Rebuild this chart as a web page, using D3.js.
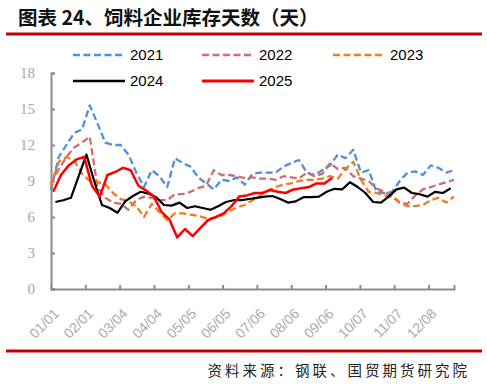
<!DOCTYPE html>
<head>
<meta charset="utf-8">
<script src="https://d3js.org/d3.v7.min.js"></script>
<style>
body { margin: 0; background: #fff; }
svg { display: block; }
</style>
</head>
<body>
<svg width="487" height="384"></svg>
<script>
// x-axis tick labels (month/day), one every 31 days
var tickLabels = ["01/01","02/01","03/04","04/04","05/05","06/05","07/06","08/06","09/06","10/07","11/07","12/08"];
var yTicks = [0, 3, 6, 9, 12, 15, 18];

// weekly readings, first date of each year's series
var years = ["2021", "2022", "2023", "2024", "2025"];
var firstDates = ["01/01", "01/01", "01/01", "01/05", "01/03"];

var v2021 = [8.25,11.0,12.0,13.0,13.3,15.3,13.8,12.2,12.0,12.0,11.2,9.7,8.5,9.9,9.4,8.5,10.9,10.5,10.2,9.3,8.8,8.3,9.1,9.0,9.3,8.7,9.6,9.7,9.7,9.7,10.2,10.5,10.75,9.7,9.5,9.9,10.3,11.2,10.9,11.6,9.7,9.9,8.1,8.0,8.1,9.0,9.7,9.8,9.5,10.3,10.1,9.7,9.9];
var v2022 = [8.8,10.0,11.0,11.8,12.2,12.7,8.5,7.6,7.2,7.1,6.6,7.4,7.7,7.6,7.4,7.4,7.9,7.9,8.1,8.4,8.6,9.9,9.5,9.5,9.4,9.25,9.3,9.2,9.2,9.1,9.4,9.3,9.2,9.7,9.4,9.6,10.5,10.0,10.1,9.4,9.2,9.0,8.4,8.1,7.8,7.2,7.1,7.8,8.3,8.5,8.7,8.9,9.1];
var v2023 = [8.6,10.6,11.0,10.7,9.6,9.0,8.9,8.75,8.0,7.5,7.3,6.9,6.0,7.1,6.4,5.75,6.3,6.3,6.2,6.1,5.9,5.9,6.1,6.5,6.8,7.0,7.4,7.8,8.2,8.5,8.7,8.8,9.0,9.1,9.1,9.2,9.4,9.2,10.0,10.6,9.1,8.1,8.0,7.8,7.7,7.2,6.9,6.9,7.0,7.4,7.6,7.2,7.7];
var v2024 = [7.25,7.4,7.6,9.4,11.2,9.0,7.0,6.75,6.35,7.3,7.75,8.1,7.95,7.65,7.0,6.95,7.2,6.75,6.9,6.75,6.6,6.9,7.25,7.4,7.4,7.5,7.6,7.7,7.75,7.5,7.2,7.3,7.65,7.65,7.7,8.1,8.35,8.3,8.9,8.5,8.0,7.25,7.2,7.7,8.3,8.45,8.0,7.9,7.7,8.1,8.0,8.4];
var v2025 = [8.1,9.5,10.3,10.8,11.0,8.6,7.7,9.5,9.75,10.1,9.9,8.6,8.2,7.7,6.4,5.8,4.3,5.0,4.4,5.1,5.75,6.0,6.3,6.9,7.7,7.8,8.0,8.0,8.25,8.1,8.0,8.3,8.4,8.5,8.8,8.8,9.25];

var seriesValues = [v2021, v2022, v2023, v2024, v2025];
var colors = ["#4F8FDB", "#CD6E6E", "#EE7D1F", "#000000", "#FF0000"];
var dashes = ["7,3.5", "7,3.5", "7,3.5", null, null];
var widths = [2.3, 2.3, 2.3, 2.2, 2.5];

var svg = d3.select("svg");
var parseMD = d3.timeParse("%Y/%m/%d");
var jan1 = parseMD("2023/01/01");
function dayOf(md) { return d3.timeDay.count(jan1, parseMD("2023/" + md)); }

var margin = {top: 73, right: 33, bottom: 95, left: 51};
var x = d3.scaleLinear().domain([0, 364]).range([margin.left, 487 - margin.right]);
var y = d3.scaleLinear().domain([0, 18]).range([384 - margin.bottom, margin.top]);

// title and rules
svg.append("text")
  .attr("x", 18).attr("y", 25)
  .text("图表 24、饲料企业库存天数（天）")
  .style("font-family", '"Noto Sans CJK SC", sans-serif')
  .style("font-weight", "bold")
  .style("font-size", "19.5px")
  .style("fill", "#111");

svg.append("line").attr("x1", 6).attr("x2", 482).attr("y1", 34).attr("y2", 34)
  .style("stroke", "#C00000").style("stroke-width", 3);
svg.append("line").attr("x1", 6).attr("x2", 482).attr("y1", 351).attr("y2", 351)
  .style("stroke", "#C00000").style("stroke-width", 3);

svg.append("text")
  .attr("x", 470).attr("y", 376)
  .attr("text-anchor", "end")
  .text("资料来源：钢联、国贸期货研究院")
  .style("font-family", '"Noto Sans CJK SC", sans-serif')
  .style("font-size", "14.5px")
  .style("letter-spacing", "3px")
  .style("fill", "#222");

// y axis
var yAxis = svg.append("g")
  .attr("transform", "translate(" + margin.left + ",0)")
  .call(d3.axisLeft(y).tickValues(yTicks).tickSize(-4).tickPadding(16));
yAxis.select(".domain").style("stroke", "#8C8C8C").style("stroke-width", 2);
yAxis.selectAll("line").style("stroke", "#8C8C8C").style("stroke-width", 2);
yAxis.selectAll("text")
  .style("font-family", '"Liberation Serif", serif')
  .style("font-size", "15px")
  .style("fill", "#A6A6A6");

// x axis
var tickDays = tickLabels.map(dayOf);
var xAxis = svg.append("g")
  .attr("transform", "translate(0," + y(0) + ")")
  .call(d3.axisBottom(x).tickValues(tickDays.slice(1)).tickSize(-4).tickFormat(""));
xAxis.select(".domain").style("stroke", "#8C8C8C").style("stroke-width", 2);
xAxis.selectAll("line").style("stroke", "#8C8C8C").style("stroke-width", 2);

svg.append("g").selectAll("text")
  .data(tickLabels)
  .join("text")
  .attr("transform", d => "translate(" + (x(dayOf(d)) + 5.5) + "," + (y(0) + 22) + ") rotate(-45)")
  .attr("text-anchor", "end")
  .attr("dy", "0.35em")
  .text(d => d)
  .style("font-family", '"Liberation Sans", Arial, sans-serif')
  .style("font-size", "14px")
  .style("fill", "#AAAAAA");

// lines
var line = d3.line()
  .x(d => x(d.day))
  .y(d => y(d.value));

var series = years.map(function(yr, i) {
  var d0 = dayOf(firstDates[i]);
  return {
    year: yr,
    values: seriesValues[i].map((v, k) => ({day: d0 + 7 * k, value: v}))
  };
});

svg.append("g").selectAll("path")
  .data(series)
  .join("path")
  .attr("d", d => line(d.values))
  .style("fill", "none")
  .style("stroke", (d, i) => colors[i])
  .style("stroke-width", (d, i) => widths[i])
  .style("stroke-dasharray", (d, i) => dashes[i])
  .style("stroke-linejoin", "round");

// legend
var legendPos = [[73, 55], [202, 55], [333, 55], [73, 81], [202, 81]];
var legend = svg.append("g").selectAll("g")
  .data(years)
  .join("g")
  .attr("transform", (d, i) => "translate(" + legendPos[i][0] + "," + legendPos[i][1] + ")");
legend.append("line")
  .attr("x1", 0).attr("x2", 52)
  .style("stroke", (d, i) => colors[i])
  .style("stroke-width", (d, i) => widths[i] + 0.3)
  .style("stroke-dasharray", (d, i) => dashes[i]);
legend.append("text")
  .attr("x", 57).attr("dy", "0.36em")
  .text(d => d)
  .style("font-family", '"Liberation Sans", Arial, sans-serif')
  .style("font-size", "15px")
  .style("fill", "#000");
</script>
</body>
